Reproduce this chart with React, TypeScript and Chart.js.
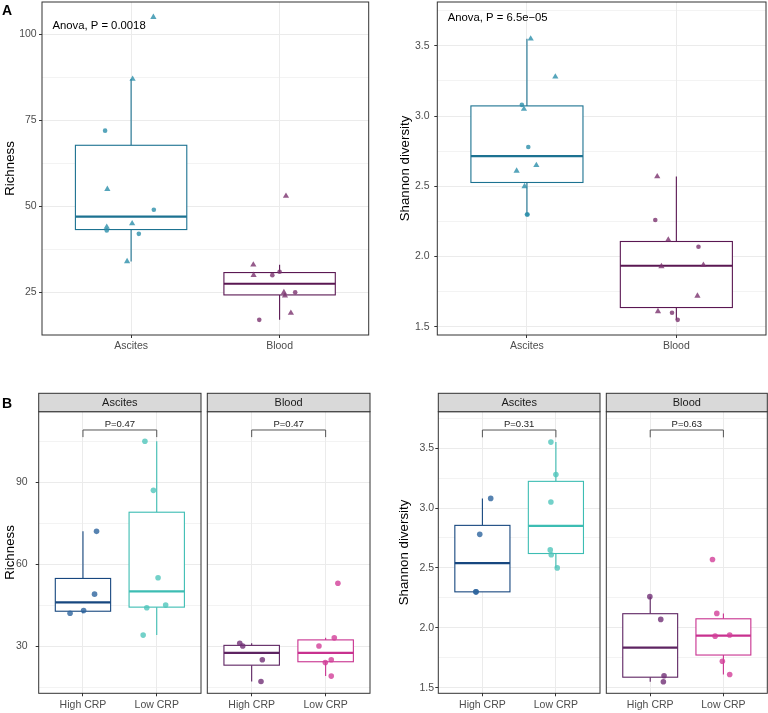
import React, { useEffect, useRef } from 'react';
import { Chart, registerables } from 'chart.js';

Chart.register(...registerables);

const FONT = '"Liberation Sans", Arial, Helvetica, sans-serif';

// ---------- categories / labels ----------
const sitesA = ['Ascites', 'Blood'];
const crpGroups = ['High CRP', 'Low CRP'];
const facetNames = ['Ascites', 'Blood'];
const yTitleRich = 'Richness';
const yTitleShan = 'Shannon diversity';
const anovaRich = 'Anova, P = 0.0018';
const anovaShan = 'Anova, P = 6.5e\u221205';
const pRich = ['P=0.47', 'P=0.47'];
const pShan = ['P=0.31', 'P=0.63'];

// ---------- values ----------
const richAscHigh = [72, 49, 43, 42];
const richAscLow = [105, 87, 55, 45, 44, 34];
const richBloodHigh = [31, 30, 25, 17];
const richBloodLow = [53, 33, 30, 24, 25, 19];

const shanAscHigh = [3.08, 2.78, 2.3, 2.3];
const shanAscLow = [3.55, 3.28, 3.05, 2.65, 2.61, 2.5];
const shanBloodHigh = [2.26, 2.07, 1.6, 1.55];
const shanBloodLow = [2.57, 2.12, 1.93, 1.94, 1.72, 1.61];

// ---------- jitter offsets (category units) ----------
const jAR_ascHigh = [-0.175, 0.153, -0.164, 0.052];
const jAR_ascLow = [0.15, 0.01, -0.16, 0.007, -0.164, -0.027];
const jAR_bloodHigh = [0.0, -0.049, 0.105, -0.137];
const jAR_bloodLow = [0.043, -0.177, -0.175, 0.036, 0.029, 0.076];

const jAS_ascHigh = [-0.034, 0.009, 0.004, 0.0];
const jAS_ascLow = [0.025, 0.19, -0.02, 0.063, -0.069, -0.016];
const jAS_bloodHigh = [-0.141, 0.148, -0.029, 0.009];
const jAS_bloodLow = [-0.128, -0.054, -0.1, 0.181, 0.141, -0.123];

const jBR_ascHigh = [0.184, 0.157, 0.009, -0.175];
const jBR_ascLow = [-0.16, -0.045, 0.018, 0.121, -0.135, -0.184];
const jBR_bloodHigh = [-0.161, -0.121, 0.144, 0.126];
const jBR_bloodLow = [0.166, 0.117, -0.09, -0.004, 0.076, 0.076];

const jBS_ascHigh = [0.113, -0.036, -0.09, -0.085];
const jBS_ascLow = [-0.068, 0.0, -0.068, -0.077, -0.063, 0.018];
const jBS_bloodHigh = [-0.005, 0.144, 0.189, 0.18];
const jBS_bloodLow = [-0.149, -0.09, -0.113, 0.086, -0.014, 0.086];

// ---------- axis ticks / ranges ----------
const richTicksA = [25, 50, 75, 100];
const richMinorA = [37.5, 62.5, 87.5];
const richRangeA = [12.6, 109.4];
const shanTicks = [1.5, 2.0, 2.5, 3.0, 3.5];
const shanMinor = [1.75, 2.25, 2.75, 3.25, 3.75];
const shanRangeA = [1.442, 3.812];
const richTicksB = [30, 60, 90];
const richMinorB = [15, 45, 75, 105];
const richRangeB = [12.7, 115.8];
const shanRangeB = [1.453, 3.804];

// annotation / bracket heights (data units)
const anovaX = 0.47;
const anovaRichY = 102.7;
const anovaShanY = 3.706;
const bracketRich = [109.1, 106.5];
const bracketShan = [3.651, 3.59];

// ---------- colours ----------
const lineAsc = '#1C7291';
const lineBlood = '#5A1752';
const ptAsc = 'rgba(44,142,170,0.8)';
const ptBlood = 'rgba(122,50,110,0.8)';
const lineHighAsc = '#17477F';
const lineLowAsc = '#3DBDB3';
const lineHighBlood = '#5E2462';
const lineLowBlood = '#C8318F';
const ptHighAsc = 'rgba(45,100,158,0.8)';
const ptLowAsc = 'rgba(80,198,188,0.8)';
const ptHighBlood = 'rgba(112,48,118,0.8)';
const ptLowBlood = 'rgba(210,62,152,0.8)';

type Group = { x: number; values: number[]; jitter: number[]; shape: string; color: string; r: number };
type BoxSpec = { x: number; values: number[]; line: string };
type PanelProps = {
  id: string;
  x: number; y: number; w: number; h: number;
  area: { left: number; right: number; top: number; bottom: number };
  yRange: number[]; major: number[]; minor: number[]; decimals: number;
  showY: boolean; yPad: number; xPad: number;
  yTitle?: string; titlePad?: number;
  xLabels: string[];
  boxes: BoxSpec[]; groups: Group[];
  strip?: string;
  bracket?: { y: number; tip: number; text: string };
  note?: { x: number; y: number; text: string };
};

function quantile(s: number[], p: number) {
  const h = (s.length - 1) * p;
  const lo = Math.floor(h);
  const hi = Math.min(lo + 1, s.length - 1);
  return s[lo] + (h - lo) * (s[hi] - s[lo]);
}
function boxStats(vals: number[]) {
  const s = [...vals].sort((a, b) => a - b);
  const q1 = quantile(s, 0.25);
  const med = quantile(s, 0.5);
  const q3 = quantile(s, 0.75);
  const iqr = q3 - q1;
  const lo = Math.min(...s.filter((v) => v >= q1 - 1.5 * iqr));
  const hi = Math.max(...s.filter((v) => v <= q3 + 1.5 * iqr));
  return { q1, med, q3, lo, hi };
}

function makeConfig(p: PanelProps): any {
  const [ymin, ymax] = p.yRange;
  const allTicks = [...p.major, ...p.minor].filter((v) => v >= ymin && v <= ymax).sort((a, b) => a - b);
  const isMajor = (v: number) => p.major.some((m) => Math.abs(m - v) < 1e-9);
  const boxWidth = 0.75;

  const decor = {
    id: 'decor_' + p.id,
    beforeDatasetsDraw(chart: any) {
      const { ctx } = chart;
      const xs = chart.scales.x;
      const ys = chart.scales.y;
      ctx.save();
      for (const b of p.boxes) {
        const s = boxStats(b.values);
        const cx = xs.getPixelForValue(b.x);
        const l = xs.getPixelForValue(b.x - boxWidth / 2);
        const r = xs.getPixelForValue(b.x + boxWidth / 2);
        const top = ys.getPixelForValue(s.q3);
        const bot = ys.getPixelForValue(s.q1);
        ctx.strokeStyle = b.line;
        ctx.lineWidth = 1.1;
        ctx.beginPath();
        ctx.moveTo(cx, ys.getPixelForValue(s.hi));
        ctx.lineTo(cx, top);
        ctx.moveTo(cx, bot);
        ctx.lineTo(cx, ys.getPixelForValue(s.lo));
        ctx.stroke();
        ctx.fillStyle = '#ffffff';
        ctx.fillRect(l, top, r - l, bot - top);
        ctx.strokeRect(l, top, r - l, bot - top);
        const my = ys.getPixelForValue(s.med);
        ctx.lineWidth = 2.2;
        ctx.beginPath();
        ctx.moveTo(l, my);
        ctx.lineTo(r, my);
        ctx.stroke();
      }
      ctx.restore();
    },
    afterDraw(chart: any) {
      const { ctx, chartArea: a } = chart;
      const xs = chart.scales.x;
      const ys = chart.scales.y;
      ctx.save();
      // panel border
      ctx.strokeStyle = '#333333';
      ctx.lineWidth = 1;
      ctx.strokeRect(a.left, a.top, a.right - a.left, a.bottom - a.top);
      // strip
      if (p.strip) {
        const sh = 18.4;
        ctx.fillStyle = '#D9D9D9';
        ctx.fillRect(a.left, a.top - sh, a.right - a.left, sh);
        ctx.strokeRect(a.left, a.top - sh, a.right - a.left, sh);
        ctx.fillStyle = '#1A1A1A';
        ctx.font = `11px ${FONT}`;
        ctx.textAlign = 'center';
        ctx.textBaseline = 'middle';
        ctx.fillText(p.strip, (a.left + a.right) / 2, a.top - sh / 2 + 0.5);
      }
      // bracket
      if (p.bracket) {
        const x1 = xs.getPixelForValue(1);
        const x2 = xs.getPixelForValue(2);
        const by = ys.getPixelForValue(p.bracket.y);
        const ty = ys.getPixelForValue(p.bracket.tip);
        ctx.strokeStyle = '#555555';
        ctx.lineWidth = 1;
        ctx.beginPath();
        ctx.moveTo(x1, ty);
        ctx.lineTo(x1, by);
        ctx.lineTo(x2, by);
        ctx.lineTo(x2, ty);
        ctx.stroke();
        ctx.fillStyle = '#222222';
        ctx.font = `9.5px ${FONT}`;
        ctx.textAlign = 'center';
        ctx.textBaseline = 'alphabetic';
        ctx.fillText(p.bracket.text, (x1 + x2) / 2, by - 2.6);
      }
      // annotation
      if (p.note) {
        const fs = 11.3;
        ctx.fillStyle = '#000000';
        ctx.font = `${fs}px ${FONT}`;
        ctx.textAlign = 'left';
        ctx.textBaseline = 'alphabetic';
        ctx.fillText(p.note.text, xs.getPixelForValue(p.note.x), ys.getPixelForValue(p.note.y) + 0.36 * fs);
      }
      ctx.restore();
    },
  };

  return {
    type: 'scatter',
    data: {
      datasets: p.groups.map((g) => ({
        data: g.values.map((v, i) => ({ x: g.x + g.jitter[i], y: v })),
        pointStyle: g.shape,
        pointRadius: g.r,
        pointBackgroundColor: g.color,
        pointBorderWidth: 0,
        pointBorderColor: 'rgba(0,0,0,0)',
        showLine: false,
      })),
    },
    options: {
      animation: false,
      responsive: false,
      events: [],
      layout: {
        autoPadding: false,
        padding: { left: 0, top: p.area.top, right: p.w - p.area.right, bottom: 0 },
      },
      plugins: { legend: { display: false }, tooltip: { enabled: false } },
      scales: {
        x: {
          type: 'linear',
          min: 0.4,
          max: 2.6,
          afterBuildTicks: (s: any) => {
            s.ticks = p.xLabels.map((_, i) => ({ value: i + 1 }));
          },
          afterFit: (s: any) => {
            s.height = p.h - p.area.bottom;
            s.paddingLeft = 0;
            s.paddingRight = 0;
          },
          ticks: {
            autoSkip: false,
            maxRotation: 0,
            padding: p.xPad,
            color: '#4D4D4D',
            font: { family: FONT, size: 10.5 },
            callback: (v: number) => p.xLabels[Math.round(v) - 1] ?? '',
          },
          grid: { color: '#EBEBEB', lineWidth: 1, drawTicks: true, tickLength: 3, tickColor: '#333333' },
          border: { display: false },
        },
        y: {
          type: 'linear',
          min: ymin,
          max: ymax,
          afterBuildTicks: (s: any) => {
            s.ticks = allTicks.map((v) => ({ value: v }));
          },
          afterFit: (s: any) => {
            s.width = p.area.left;
            s.paddingTop = 0;
            s.paddingBottom = 0;
          },
          ticks: {
            display: p.showY,
            autoSkip: false,
            padding: p.yPad,
            color: '#4D4D4D',
            font: { family: FONT, size: 10.5 },
            callback: (v: number) => (isMajor(v) ? v.toFixed(p.decimals) : ''),
          },
          grid: {
            color: '#EBEBEB',
            lineWidth: (c: any) => (c.tick && !isMajor(c.tick.value) ? 0.6 : 1),
            drawTicks: p.showY,
            tickLength: 3,
            tickColor: (c: any) => (c.tick && !isMajor(c.tick.value) ? 'rgba(0,0,0,0)' : '#333333'),
          },
          border: { display: false },
          title: p.yTitle
            ? {
                display: true,
                text: p.yTitle,
                color: '#000000',
                font: { family: FONT, size: 13.3 },
                padding: { top: p.titlePad ?? 0, bottom: 0 },
              }
            : { display: false },
        },
      },
    },
    plugins: [decor],
  };
}

function Panel(p: PanelProps) {
  const ref = useRef<HTMLCanvasElement>(null);
  useEffect(() => {
    const chart = new Chart(ref.current as HTMLCanvasElement, makeConfig(p));
    return () => chart.destroy();
  }, []);
  return (
    <canvas
      ref={ref}
      width={p.w}
      height={p.h}
      style={{ position: 'absolute', left: p.x, top: p.y, width: p.w, height: p.h, display: 'block' }}
    />
  );
}

const rA = 2.3;
const rT = 3.6;
const rB = 2.8;

const panels: PanelProps[] = [
  {
    id: 'aRich', x: 0, y: 0, w: 384, h: 360,
    area: { left: 42, right: 368.7, top: 2, bottom: 335 },
    yRange: richRangeA, major: richTicksA, minor: richMinorA, decimals: 0,
    showY: true, yPad: 2.3, xPad: 1.4, yTitle: yTitleRich, titlePad: 2.8,
    xLabels: sitesA,
    boxes: [
      { x: 1, values: [...richAscHigh, ...richAscLow], line: lineAsc },
      { x: 2, values: [...richBloodHigh, ...richBloodLow], line: lineBlood },
    ],
    groups: [
      { x: 1, values: richAscHigh, jitter: jAR_ascHigh, shape: 'circle', color: ptAsc, r: rA },
      { x: 1, values: richAscLow, jitter: jAR_ascLow, shape: 'triangle', color: ptAsc, r: rT },
      { x: 2, values: richBloodHigh, jitter: jAR_bloodHigh, shape: 'circle', color: ptBlood, r: rA },
      { x: 2, values: richBloodLow, jitter: jAR_bloodLow, shape: 'triangle', color: ptBlood, r: rT },
    ],
    note: { x: anovaX, y: anovaRichY, text: anovaRich },
  },
  {
    id: 'aShan', x: 384, y: 0, w: 384, h: 360,
    area: { left: 53.3, right: 382, top: 2, bottom: 335 },
    yRange: shanRangeA, major: shanTicks, minor: shanMinor, decimals: 1,
    showY: true, yPad: 4.7, xPad: 1.4, yTitle: yTitleShan, titlePad: 13.5,
    xLabels: sitesA,
    boxes: [
      { x: 1, values: [...shanAscHigh, ...shanAscLow], line: lineAsc },
      { x: 2, values: [...shanBloodHigh, ...shanBloodLow], line: lineBlood },
    ],
    groups: [
      { x: 1, values: shanAscHigh, jitter: jAS_ascHigh, shape: 'circle', color: ptAsc, r: rA },
      { x: 1, values: shanAscLow, jitter: jAS_ascLow, shape: 'triangle', color: ptAsc, r: rT },
      { x: 2, values: shanBloodHigh, jitter: jAS_bloodHigh, shape: 'circle', color: ptBlood, r: rA },
      { x: 2, values: shanBloodLow, jitter: jAS_bloodLow, shape: 'triangle', color: ptBlood, r: rT },
    ],
    note: { x: anovaX, y: anovaShanY, text: anovaShan },
  },
  {
    id: 'bRichAsc', x: 0, y: 380, w: 204, h: 333,
    area: { left: 38.7, right: 201, top: 31.7, bottom: 313.3 },
    yRange: richRangeB, major: richTicksB, minor: richMinorB, decimals: 0,
    showY: true, yPad: 8, xPad: 2.4, yTitle: yTitleRich, titlePad: 2,
    xLabels: crpGroups, strip: facetNames[0],
    boxes: [
      { x: 1, values: richAscHigh, line: lineHighAsc },
      { x: 2, values: richAscLow, line: lineLowAsc },
    ],
    groups: [
      { x: 1, values: richAscHigh, jitter: jBR_ascHigh, shape: 'circle', color: ptHighAsc, r: rB },
      { x: 2, values: richAscLow, jitter: jBR_ascLow, shape: 'circle', color: ptLowAsc, r: rB },
    ],
    bracket: { y: bracketRich[0], tip: bracketRich[1], text: pRich[0] },
  },
  {
    id: 'bRichBlood', x: 204, y: 380, w: 180, h: 333,
    area: { left: 3.3, right: 166, top: 31.7, bottom: 313.3 },
    yRange: richRangeB, major: richTicksB, minor: richMinorB, decimals: 0,
    showY: false, yPad: 0, xPad: 2.4,
    xLabels: crpGroups, strip: facetNames[1],
    boxes: [
      { x: 1, values: richBloodHigh, line: lineHighBlood },
      { x: 2, values: richBloodLow, line: lineLowBlood },
    ],
    groups: [
      { x: 1, values: richBloodHigh, jitter: jBR_bloodHigh, shape: 'circle', color: ptHighBlood, r: rB },
      { x: 2, values: richBloodLow, jitter: jBR_bloodLow, shape: 'circle', color: ptLowBlood, r: rB },
    ],
    bracket: { y: bracketRich[0], tip: bracketRich[1], text: pRich[1] },
  },
  {
    id: 'bShanAsc', x: 384, y: 380, w: 219, h: 333,
    area: { left: 54.3, right: 216, top: 31.7, bottom: 313.3 },
    yRange: shanRangeB, major: shanTicks, minor: shanMinor, decimals: 1,
    showY: true, yPad: 1.3, xPad: 2.4, yTitle: yTitleShan, titlePad: 12.8,
    xLabels: crpGroups, strip: facetNames[0],
    boxes: [
      { x: 1, values: shanAscHigh, line: lineHighAsc },
      { x: 2, values: shanAscLow, line: lineLowAsc },
    ],
    groups: [
      { x: 1, values: shanAscHigh, jitter: jBS_ascHigh, shape: 'circle', color: ptHighAsc, r: rB },
      { x: 2, values: shanAscLow, jitter: jBS_ascLow, shape: 'circle', color: ptLowAsc, r: rB },
    ],
    bracket: { y: bracketShan[0], tip: bracketShan[1], text: pShan[0] },
  },
  {
    id: 'bShanBlood', x: 603, y: 380, w: 165, h: 333,
    area: { left: 3.3, right: 164.3, top: 31.7, bottom: 313.3 },
    yRange: shanRangeB, major: shanTicks, minor: shanMinor, decimals: 1,
    showY: false, yPad: 0, xPad: 2.4,
    xLabels: crpGroups, strip: facetNames[1],
    boxes: [
      { x: 1, values: shanBloodHigh, line: lineHighBlood },
      { x: 2, values: shanBloodLow, line: lineLowBlood },
    ],
    groups: [
      { x: 1, values: shanBloodHigh, jitter: jBS_bloodHigh, shape: 'circle', color: ptHighBlood, r: rB },
      { x: 2, values: shanBloodLow, jitter: jBS_bloodLow, shape: 'circle', color: ptLowBlood, r: rB },
    ],
    bracket: { y: bracketShan[0], tip: bracketShan[1], text: pShan[1] },
  },
];

const tagStyle: React.CSSProperties = {
  position: 'absolute',
  left: 2,
  fontFamily: FONT,
  fontWeight: 'bold',
  fontSize: 14,
  lineHeight: '14px',
  color: '#000',
};

export default function App() {
  return (
    <div style={{ position: 'absolute', left: 0, top: 0, width: 768, height: 713, background: '#fff', overflow: 'hidden' }}>
      {panels.map((p) => (
        <Panel key={p.id} {...p} />
      ))}
      <div style={{ ...tagStyle, top: 3 }}>A</div>
      <div style={{ ...tagStyle, top: 396 }}>B</div>
    </div>
  );
}
